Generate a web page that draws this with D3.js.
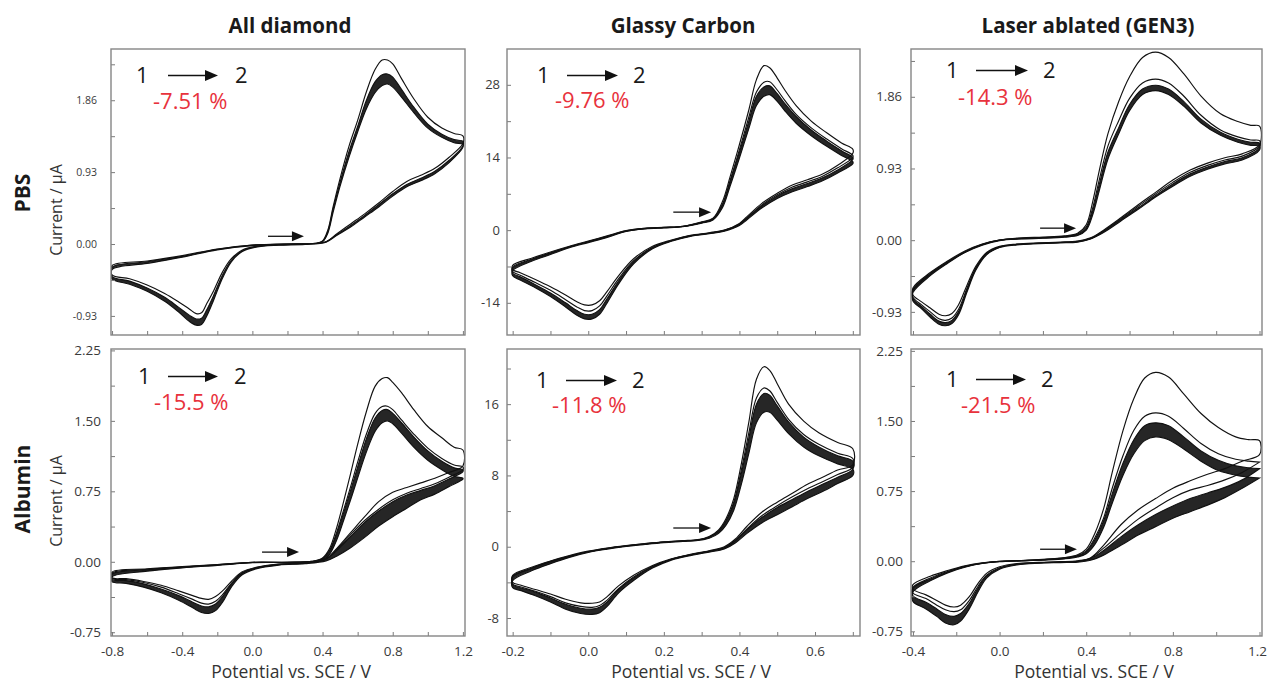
<!DOCTYPE html>
<html>
<head>
<meta charset="utf-8">
<script src="https://cdn.jsdelivr.net/npm/d3@7"></script>
<style>
  body { margin: 0; background: #fff; }
  svg { display: block; }
</style>
</head>
<body>
<script>
// ---- categories ----
const electrodes = ["All diamond", "Glassy Carbon", "Laser ablated (GEN3)"];
const media = ["PBS", "Albumin"];
const peakChange = ["-7.51 %", "-9.76 %", "-14.3 %", "-15.5 %", "-11.8 %", "-21.5 %"];

// ---- tick labels ----
const diamondXTicks = ["-0.8", "-0.4", "0.0", "0.4", "0.8", "1.2"];
const diamondXMinor = [-0.6, -0.2, 0.2, 0.6, 1.0];
const glassyXTicks = ["-0.2", "0.0", "0.2", "0.4", "0.6"];
const glassyXMinor = [-0.1, 0.1, 0.3, 0.5, 0.7];
const laserXTicks = ["-0.4", "0.0", "0.4", "0.8", "1.2"];
const laserXMinor = [-0.2, 0.2, 0.6, 1.0];
const pbsCurrentTicks = ["-0.93", "0.00", "0.93", "1.86"];
const pbsCurrentMinor = [-0.465, 0.465, 1.395, 2.325];
const glassyPbsCurrentTicks = ["-14", "0", "14", "28"];
const glassyPbsCurrentMinor = [-7, 7, 21];
const albCurrentTicks = ["-0.75", "0.00", "0.75", "1.50", "2.25"];
const albCurrentMinor = [-0.375, 0.375, 1.125, 1.875];
const glassyAlbCurrentTicks = ["-8", "0", "8", "16"];
const glassyAlbCurrentMinor = [-4, 4, 12, 20];

// ---- All diamond, PBS (potential in V, current in µA; forward scan then reverse scan) ----
const diamondPbsPotential = [-0.8, -0.6, -0.4, -0.2, 0.0, 0.2, 0.36, 0.40, 0.43, 0.46, 0.50, 0.55, 0.60, 0.65, 0.70, 0.74, 0.77, 0.80, 0.85, 0.92, 1.00, 1.08, 1.15, 1.2,
  1.2, 1.12, 1.04, 0.96, 0.88, 0.80, 0.72, 0.64, 0.56, 0.48, 0.42, 0.30, 0.15, 0.02, -0.06, -0.12, -0.17, -0.22, -0.26, -0.29, -0.32, -0.36, -0.42, -0.50, -0.60, -0.70, -0.8];
const diamondPbsCycle1 = [-0.28, -0.22, -0.15, -0.065, -0.013, 0.0, 0.01, 0.04, 0.18, 0.48, 0.85, 1.26, 1.60, 1.97, 2.26, 2.38, 2.38, 2.33, 2.14, 1.88, 1.64, 1.50, 1.43, 1.40,
  1.30, 1.12, 0.98, 0.89, 0.81, 0.68, 0.53, 0.39, 0.26, 0.13, 0.03, 0.0, -0.01, -0.03, -0.08, -0.19, -0.36, -0.60, -0.77, -0.89, -0.90, -0.84, -0.75, -0.64, -0.53, -0.45, -0.40];
const diamondPbsBandTop = [-0.30, -0.23, -0.16, -0.07, -0.015, 0.0, 0.01, 0.035, 0.16, 0.45, 0.80, 1.19, 1.52, 1.86, 2.10, 2.19, 2.20, 2.16, 2.00, 1.77, 1.55, 1.42, 1.35, 1.33,
  1.27, 1.08, 0.94, 0.85, 0.77, 0.65, 0.51, 0.37, 0.24, 0.12, 0.03, 0.0, -0.01, -0.035, -0.09, -0.21, -0.40, -0.66, -0.85, -0.96, -0.97, -0.92, -0.82, -0.69, -0.57, -0.48, -0.42];
const diamondPbsBandBottom = [-0.33, -0.25, -0.17, -0.075, -0.02, 0.0, 0.005, 0.03, 0.14, 0.41, 0.75, 1.12, 1.45, 1.75, 1.96, 2.05, 2.07, 2.03, 1.90, 1.70, 1.50, 1.38, 1.31, 1.29,
  1.25, 1.05, 0.91, 0.82, 0.74, 0.62, 0.48, 0.35, 0.22, 0.11, 0.025, -0.005, -0.015, -0.04, -0.10, -0.23, -0.44, -0.72, -0.93, -1.04, -1.05, -1.00, -0.88, -0.74, -0.61, -0.52, -0.45];

// ---- Glassy Carbon, PBS ----
const glassyPbsPotential = [-0.2, -0.15, -0.1, -0.05, 0.0, 0.05, 0.10, 0.15, 0.20, 0.25, 0.30, 0.33, 0.355, 0.375, 0.40, 0.425, 0.445, 0.465, 0.48, 0.50, 0.52, 0.55, 0.59, 0.63, 0.67, 0.70,
  0.70, 0.66, 0.62, 0.58, 0.54, 0.50, 0.46, 0.42, 0.40, 0.36, 0.32, 0.27, 0.22, 0.17, 0.12, 0.08, 0.05, 0.03, 0.01, -0.01, -0.03, -0.06, -0.10, -0.14, -0.18, -0.20];
const glassyPbsCycle1 = [-6.8, -5.4, -4.2, -3.1, -2.1, -1.1, -0.1, 0.35, 0.55, 0.75, 1.6, 2.3, 5.5, 10.2, 16.5, 23.2, 29.0, 31.7, 31.3, 29.3, 27.0, 24.0, 21.0, 18.8, 16.8, 15.6,
  14.8, 12.5, 10.8, 9.7, 8.7, 7.1, 5.2, 2.6, 1.3, 0.0, -0.5, -1.0, -1.9, -3.1, -5.5, -8.8, -11.8, -13.6, -14.4, -14.4, -13.8, -12.5, -10.9, -9.5, -8.2, -7.6];
const glassyPbsCycle2 = [-7.1, -5.6, -4.35, -3.2, -2.2, -1.2, -0.15, 0.33, 0.53, 0.72, 1.5, 2.2, 5.0, 9.5, 15.5, 21.8, 26.6, 28.5, 28.6, 27.0, 25.0, 22.3, 19.7, 17.6, 15.7, 14.4,
  14.0, 12.0, 10.4, 9.3, 8.3, 6.8, 4.9, 2.4, 1.2, -0.05, -0.55, -1.05, -2.0, -3.3, -5.9, -9.4, -12.6, -14.6, -15.5, -15.5, -14.8, -13.4, -11.6, -10.1, -8.7, -8.0];
const glassyPbsBandTop = [-7.3, -5.7, -4.45, -3.25, -2.25, -1.25, -0.2, 0.3, 0.5, 0.7, 1.45, 2.1, 4.8, 9.2, 15.0, 21.0, 25.8, 27.6, 27.8, 26.3, 24.4, 21.9, 19.3, 17.2, 15.3, 14.0,
  13.6, 11.6, 10.1, 9.0, 8.0, 6.6, 4.7, 2.3, 1.1, -0.1, -0.6, -1.1, -2.05, -3.4, -6.1, -9.8, -13.2, -15.3, -16.2, -16.2, -15.5, -14.0, -12.1, -10.5, -9.0, -8.3];
const glassyPbsBandBottom = [-7.8, -6.0, -4.7, -3.4, -2.4, -1.4, -0.25, 0.25, 0.45, 0.65, 1.35, 1.95, 4.3, 8.4, 13.9, 19.6, 24.0, 25.8, 26.1, 24.8, 23.0, 20.6, 18.2, 16.2, 14.4, 13.2,
  12.8, 11.0, 9.5, 8.4, 7.4, 6.1, 4.3, 2.0, 0.9, -0.2, -0.7, -1.2, -2.15, -3.6, -6.5, -10.4, -14.0, -16.2, -17.1, -17.1, -16.4, -14.8, -12.8, -11.1, -9.6, -8.8];

// ---- Laser ablated (GEN3), PBS ----
const laserPbsPotential = [-0.4, -0.32, -0.24, -0.16, -0.08, 0.0, 0.10, 0.20, 0.30, 0.36, 0.40, 0.43, 0.46, 0.50, 0.55, 0.60, 0.66, 0.72, 0.78, 0.85, 0.93, 1.02, 1.10, 1.16, 1.2,
  1.2, 1.12, 1.04, 0.96, 0.88, 0.80, 0.72, 0.64, 0.56, 0.48, 0.42, 0.36, 0.28, 0.18, 0.08, 0.0, -0.06, -0.11, -0.15, -0.19, -0.22, -0.25, -0.28, -0.32, -0.36, -0.4];
const laserPbsCycle1 = [-0.62, -0.42, -0.27, -0.14, -0.05, 0.0, 0.03, 0.04, 0.055, 0.09, 0.20, 0.50, 0.90, 1.38, 1.80, 2.12, 2.37, 2.44, 2.37, 2.16, 1.87, 1.64, 1.54, 1.49, 1.48,
  1.24, 1.12, 1.07, 1.00, 0.91, 0.78, 0.62, 0.46, 0.29, 0.13, 0.03, -0.01, -0.025, -0.035, -0.05, -0.08, -0.16, -0.34, -0.58, -0.84, -0.95, -0.98, -0.96, -0.88, -0.80, -0.71];
const laserPbsCycle2 = [-0.64, -0.43, -0.28, -0.15, -0.055, 0.0, 0.025, 0.035, 0.05, 0.08, 0.17, 0.42, 0.78, 1.22, 1.55, 1.84, 2.04, 2.09, 2.04, 1.87, 1.62, 1.43, 1.34, 1.30, 1.29,
  1.22, 1.09, 1.04, 0.97, 0.88, 0.75, 0.60, 0.44, 0.28, 0.12, 0.025, -0.015, -0.03, -0.04, -0.055, -0.085, -0.17, -0.36, -0.62, -0.90, -1.01, -1.04, -1.02, -0.93, -0.84, -0.74];
const laserPbsBandTop = [-0.65, -0.44, -0.29, -0.155, -0.06, 0.0, 0.02, 0.03, 0.045, 0.07, 0.15, 0.38, 0.72, 1.14, 1.46, 1.76, 1.96, 2.01, 1.96, 1.80, 1.57, 1.40, 1.31, 1.27, 1.26,
  1.20, 1.07, 1.02, 0.95, 0.86, 0.73, 0.58, 0.42, 0.27, 0.115, 0.02, -0.02, -0.03, -0.04, -0.055, -0.09, -0.18, -0.37, -0.64, -0.93, -1.04, -1.07, -1.05, -0.96, -0.86, -0.76];
const laserPbsBandBottom = [-0.68, -0.46, -0.30, -0.16, -0.065, -0.005, 0.015, 0.025, 0.04, 0.06, 0.13, 0.33, 0.64, 1.05, 1.38, 1.68, 1.89, 1.94, 1.89, 1.74, 1.52, 1.36, 1.27, 1.23, 1.22,
  1.17, 1.04, 0.99, 0.92, 0.83, 0.70, 0.56, 0.40, 0.25, 0.10, 0.015, -0.025, -0.035, -0.045, -0.06, -0.095, -0.19, -0.39, -0.67, -0.97, -1.08, -1.11, -1.09, -1.00, -0.89, -0.79];

// ---- All diamond, Albumin ----
const diamondAlbPotential = [-0.8, -0.6, -0.4, -0.2, 0.0, 0.2, 0.34, 0.40, 0.44, 0.48, 0.52, 0.56, 0.60, 0.65, 0.70, 0.74, 0.77, 0.80, 0.85, 0.92, 1.00, 1.08, 1.15, 1.2,
  1.2, 1.12, 1.04, 0.96, 0.88, 0.80, 0.72, 0.64, 0.56, 0.48, 0.42, 0.30, 0.15, 0.02, -0.06, -0.12, -0.17, -0.21, -0.25, -0.29, -0.34, -0.42, -0.52, -0.62, -0.72, -0.8];
const diamondAlbCycle1 = [-0.11, -0.075, -0.05, -0.03, -0.005, -0.005, 0.005, 0.04, 0.14, 0.36, 0.64, 0.94, 1.25, 1.60, 1.87, 1.95, 1.96, 1.91, 1.80, 1.62, 1.44, 1.32, 1.22, 1.19,
  1.02, 0.95, 0.89, 0.84, 0.79, 0.74, 0.64, 0.48, 0.31, 0.14, 0.035, -0.01, -0.025, -0.06, -0.11, -0.21, -0.31, -0.37, -0.40, -0.39, -0.36, -0.31, -0.25, -0.21, -0.18, -0.17];
const diamondAlbCycle2 = [-0.12, -0.08, -0.055, -0.032, -0.007, -0.006, 0.004, 0.035, 0.12, 0.31, 0.55, 0.80, 1.06, 1.36, 1.58, 1.652, 1.656, 1.62, 1.51, 1.36, 1.21, 1.10, 1.03, 1.01,
  0.98, 0.90, 0.83, 0.78, 0.73, 0.66, 0.56, 0.44, 0.29, 0.13, 0.03, -0.01, -0.028, -0.065, -0.12, -0.23, -0.35, -0.42, -0.45, -0.44, -0.40, -0.34, -0.27, -0.22, -0.19, -0.18];
const diamondAlbBandTop = [-0.13, -0.085, -0.057, -0.034, -0.008, -0.007, 0.003, 0.03, 0.11, 0.29, 0.52, 0.76, 1.01, 1.31, 1.53, 1.61, 1.62, 1.58, 1.48, 1.33, 1.18, 1.07, 1.00, 0.98,
  0.96, 0.88, 0.81, 0.76, 0.71, 0.64, 0.54, 0.42, 0.27, 0.12, 0.025, -0.012, -0.03, -0.068, -0.125, -0.24, -0.37, -0.45, -0.48, -0.47, -0.43, -0.36, -0.29, -0.235, -0.20, -0.19];
const diamondAlbBandBottom = [-0.16, -0.10, -0.065, -0.038, -0.01, -0.008, 0.0, 0.02, 0.08, 0.23, 0.44, 0.66, 0.89, 1.17, 1.39, 1.48, 1.50, 1.47, 1.37, 1.22, 1.08, 0.98, 0.91, 0.89,
  0.88, 0.80, 0.72, 0.66, 0.57, 0.48, 0.38, 0.26, 0.15, 0.06, 0.01, -0.02, -0.035, -0.075, -0.14, -0.27, -0.43, -0.52, -0.55, -0.54, -0.49, -0.41, -0.33, -0.27, -0.23, -0.21];

// ---- Glassy Carbon, Albumin ----
const glassyAlbPotential = [-0.2, -0.15, -0.1, -0.05, 0.0, 0.05, 0.10, 0.15, 0.20, 0.25, 0.29, 0.32, 0.345, 0.365, 0.385, 0.405, 0.425, 0.445, 0.465, 0.48, 0.50, 0.53, 0.57, 0.61, 0.66, 0.70,
  0.70, 0.66, 0.62, 0.58, 0.54, 0.50, 0.46, 0.42, 0.39, 0.36, 0.32, 0.27, 0.22, 0.17, 0.12, 0.08, 0.05, 0.03, 0.01, -0.02, -0.06, -0.10, -0.14, -0.18, -0.20];
const glassyAlbCycle1 = [-3.2, -2.3, -1.6, -1.0, -0.5, -0.15, 0.12, 0.35, 0.55, 0.68, 0.8, 1.15, 1.9, 3.2, 5.4, 9.3, 14.0, 18.8, 20.2, 19.8, 18.3, 16.0, 14.1, 12.8, 11.7, 11.0,
  9.2, 8.6, 7.8, 7.0, 6.0, 5.0, 3.9, 2.3, 0.9, 0.0, -0.45, -0.85, -1.35, -2.1, -3.2, -4.4, -5.6, -6.2, -6.35, -6.3, -5.9, -5.3, -4.8, -4.3, -4.0];
const glassyAlbCycle2 = [-3.3, -2.4, -1.65, -1.05, -0.55, -0.18, 0.1, 0.33, 0.53, 0.66, 0.78, 1.1, 1.8, 3.0, 5.0, 8.6, 12.8, 16.7, 17.82, 17.5, 16.2, 14.3, 12.6, 11.5, 10.5, 9.9,
  8.9, 8.1, 7.3, 6.5, 5.6, 4.6, 3.5, 2.0, 0.75, -0.1, -0.5, -0.9, -1.4, -2.2, -3.4, -4.7, -6.0, -6.6, -6.8, -6.7, -6.3, -5.6, -5.0, -4.5, -4.2];
const glassyAlbBandTop = [-3.4, -2.45, -1.7, -1.08, -0.57, -0.2, 0.08, 0.31, 0.51, 0.64, 0.76, 1.06, 1.7, 2.85, 4.8, 8.2, 12.2, 16.0, 17.2, 17.0, 15.8, 14.0, 12.3, 11.2, 10.2, 9.6,
  8.7, 7.8, 7.0, 6.2, 5.3, 4.4, 3.3, 1.9, 0.7, -0.12, -0.52, -0.92, -1.42, -2.25, -3.5, -4.8, -6.2, -6.8, -7.0, -6.9, -6.45, -5.75, -5.1, -4.6, -4.3];
const glassyAlbBandBottom = [-3.8, -2.7, -1.9, -1.2, -0.65, -0.28, 0.02, 0.25, 0.45, 0.58, 0.70, 0.95, 1.5, 2.45, 4.1, 7.0, 10.5, 13.9, 15.1, 15.1, 14.2, 12.7, 11.2, 10.2, 9.3, 8.7,
  8.0, 7.1, 6.2, 5.4, 4.5, 3.6, 2.7, 1.5, 0.45, -0.25, -0.6, -1.0, -1.5, -2.4, -3.8, -5.2, -6.7, -7.4, -7.6, -7.5, -7.0, -6.2, -5.5, -4.9, -4.6];

// ---- Laser ablated (GEN3), Albumin ----
const laserAlbPotential = [-0.4, -0.32, -0.24, -0.16, -0.08, 0.0, 0.10, 0.20, 0.30, 0.36, 0.40, 0.44, 0.48, 0.52, 0.57, 0.62, 0.67, 0.72, 0.78, 0.85, 0.93, 1.01, 1.09, 1.15, 1.2,
  1.2, 1.12, 1.04, 0.96, 0.88, 0.80, 0.72, 0.64, 0.56, 0.48, 0.42, 0.36, 0.28, 0.18, 0.08, 0.0, -0.06, -0.10, -0.14, -0.18, -0.21, -0.25, -0.29, -0.34, -0.4];
const laserAlbCycle1 = [-0.25, -0.16, -0.10, -0.05, -0.017, 0.0, 0.008, 0.02, 0.04, 0.07, 0.13, 0.30, 0.56, 0.95, 1.40, 1.74, 1.96, 2.02, 1.97, 1.79, 1.58, 1.43, 1.33, 1.30, 1.29,
  1.14, 1.07, 0.99, 0.93, 0.86, 0.78, 0.67, 0.55, 0.39, 0.17, 0.035, 0.005, -0.005, -0.012, -0.025, -0.06, -0.13, -0.24, -0.38, -0.47, -0.49, -0.47, -0.42, -0.36, -0.30];
const laserAlbCycle2 = [-0.28, -0.18, -0.11, -0.055, -0.02, -0.002, 0.006, 0.017, 0.035, 0.06, 0.11, 0.25, 0.46, 0.78, 1.13, 1.40, 1.55, 1.586, 1.55, 1.42, 1.26, 1.15, 1.09, 1.07, 1.06,
  1.06, 0.95, 0.87, 0.81, 0.76, 0.68, 0.57, 0.45, 0.30, 0.14, 0.035, 0.0, -0.008, -0.015, -0.03, -0.07, -0.15, -0.27, -0.42, -0.52, -0.54, -0.52, -0.47, -0.40, -0.34];
const laserAlbBandTop = [-0.29, -0.19, -0.115, -0.058, -0.022, -0.003, 0.005, 0.015, 0.032, 0.055, 0.10, 0.23, 0.43, 0.72, 1.05, 1.30, 1.45, 1.48, 1.45, 1.33, 1.18, 1.08, 1.02, 1.00, 0.99,
  0.99, 0.87, 0.79, 0.73, 0.67, 0.59, 0.50, 0.39, 0.26, 0.115, 0.028, -0.002, -0.01, -0.017, -0.033, -0.075, -0.16, -0.29, -0.45, -0.56, -0.59, -0.57, -0.51, -0.44, -0.37];
const laserAlbBandBottom = [-0.33, -0.21, -0.125, -0.065, -0.025, -0.005, 0.003, 0.012, 0.025, 0.045, 0.08, 0.18, 0.36, 0.62, 0.92, 1.15, 1.29, 1.33, 1.30, 1.20, 1.07, 0.97, 0.92, 0.90, 0.89,
  0.89, 0.78, 0.68, 0.60, 0.53, 0.46, 0.37, 0.28, 0.17, 0.065, 0.01, -0.01, -0.015, -0.022, -0.04, -0.085, -0.18, -0.33, -0.51, -0.64, -0.68, -0.66, -0.59, -0.51, -0.43];

// scan-start arrows: [from potential, to potential, current]
const scanStart = [[0.089, 0.294, 0.10], [0.225, 0.325, 3.47], [0.187, 0.353, 0.156],
                   [0.055, 0.266, 0.103], [0.225, 0.325, 2.1], [0.187, 0.357, 0.128]];

// ---- layout ----
const W = 1268, H = 684;
const cols = [[111, 465], [507, 860], [911, 1262]];
const rows = [[49, 335], [349, 636]];
const xDomains = [[-0.806, 1.212], [-0.215, 0.719], [-0.409, 1.2115]];
const FONT = "'Open Sans', 'Noto Sans', sans-serif";

const panels = [
  { col: 0, row: 0, yDomain: [-1.177, 2.523], xTicks: diamondXTicks, xMinor: diamondXMinor,
    yTicks: pbsCurrentTicks, yMinor: pbsCurrentMinor, potential: diamondPbsPotential,
    cycle1: diamondPbsCycle1, cycle2: null, bandTop: diamondPbsBandTop, bandBottom: diamondPbsBandBottom,
    tickFont: 10.5, tickPad: 14, note: { one: 25, a0: 57, a1: 107, two: 124, base: 34, red: 42, redBase: 60 } },
  { col: 1, row: 0, yDomain: [-20.2, 34.9], xTicks: glassyXTicks, xMinor: glassyXMinor,
    yTicks: glassyPbsCurrentTicks, yMinor: glassyPbsCurrentMinor, potential: glassyPbsPotential,
    cycle1: glassyPbsCycle1, cycle2: glassyPbsCycle2, bandTop: glassyPbsBandTop, bandBottom: glassyPbsBandBottom,
    tickFont: 13, tickPad: 7, note: { one: 30, a0: 60, a1: 111, two: 126, base: 34, red: 48, redBase: 59 } },
  { col: 2, row: 0, yDomain: [-1.23, 2.48], xTicks: laserXTicks, xMinor: laserXMinor,
    yTicks: pbsCurrentTicks, yMinor: pbsCurrentMinor, potential: laserPbsPotential,
    cycle1: laserPbsCycle1, cycle2: laserPbsCycle2, bandTop: laserPbsBandTop, bandBottom: laserPbsBandBottom,
    tickFont: 13, tickPad: 9, note: { one: 35, a0: 65, a1: 117, two: 132, base: 29, red: 47, redBase: 56 } },
  { col: 0, row: 1, yDomain: [-0.79, 2.265], xTicks: diamondXTicks, xMinor: diamondXMinor,
    yTicks: albCurrentTicks, yMinor: albCurrentMinor, potential: diamondAlbPotential,
    cycle1: diamondAlbCycle1, cycle2: diamondAlbCycle2, bandTop: diamondAlbBandTop, bandBottom: diamondAlbBandBottom,
    tickFont: 13.5, tickPad: 10, note: { one: 27, a0: 57, a1: 107, two: 123, base: 35, red: 43, redBase: 61 } },
  { col: 1, row: 1, yDomain: [-10.02, 22.19], xTicks: glassyXTicks, xMinor: glassyXMinor,
    yTicks: glassyAlbCurrentTicks, yMinor: glassyAlbCurrentMinor, potential: glassyAlbPotential,
    cycle1: glassyAlbCycle1, cycle2: glassyAlbCycle2, bandTop: glassyAlbBandTop, bandBottom: glassyAlbBandBottom,
    tickFont: 13, tickPad: 8, note: { one: 29, a0: 59, a1: 110, two: 125, base: 39, red: 45, redBase: 64 } },
  { col: 2, row: 1, yDomain: [-0.80, 2.27], xTicks: laserXTicks, xMinor: laserXMinor,
    yTicks: albCurrentTicks, yMinor: albCurrentMinor, potential: laserAlbPotential,
    cycle1: laserAlbCycle1, cycle2: laserAlbCycle2, bandTop: laserAlbBandTop, bandBottom: laserAlbBandBottom,
    tickFont: 13.5, tickPad: 8, note: { one: 35, a0: 65, a1: 115, two: 130, base: 38, red: 50, redBase: 64 } }
];

const svg = d3.select("body").append("svg").attr("width", W).attr("height", H);
svg.append("rect").attr("width", W).attr("height", H).attr("fill", "#fff");

panels.forEach((p, i) => {
  const [x0, x1] = cols[p.col];
  const [y0, y1] = rows[p.row];
  const x = d3.scaleLinear().domain(xDomains[p.col]).range([x0, x1]);
  const y = d3.scaleLinear().domain(p.yDomain).range([y1, y0]);
  const g = svg.append("g");

  const clipId = "clip" + i;
  svg.append("clipPath").attr("id", clipId)
    .append("rect").attr("x", x0).attr("y", y0).attr("width", x1 - x0).attr("height", y1 - y0);

  const loop = cur => p.potential.map((e, k) => [e, cur[k]]);
  const line = d3.line().x(d => x(d[0])).y(d => y(d[1]))
    .curve(d3.curveCatmullRomClosed.alpha(0.5));

  const plot = g.append("g").attr("clip-path", `url(#${clipId})`);
  // dense band of the later, nearly overlapping cycles
  plot.append("path")
    .attr("d", line(loop(p.bandTop)) + line(loop(p.bandBottom)))
    .attr("fill", "#262626").attr("fill-rule", "evenodd").attr("stroke", "none");
  [p.bandTop, p.bandBottom, p.cycle2, p.cycle1].forEach(c => {
    if (!c) return;
    plot.append("path").attr("d", line(loop(c)))
      .attr("fill", "none").attr("stroke", "#111").attr("stroke-width", 1.15);
  });

  // axes with inward ticks
  const xLab = new Map(p.xTicks.map(s => [+s, s]));
  const showX = p.row === 1;
  const xAxis = d3.axisBottom(x)
    .tickValues(p.xTicks.map(Number).concat(p.xMinor))
    .tickSize(-4).tickPadding(10)
    .tickFormat(v => (showX && xLab.has(v)) ? xLab.get(v) : "");
  g.append("g").attr("transform", `translate(0,${y1})`).call(xAxis)
    .call(a => a.select(".domain").remove())
    .call(a => a.selectAll("line").attr("stroke", "#7a7a7a"))
    .call(a => a.selectAll("text").attr("fill", "#3a3a3a").style("font-family", FONT).style("font-size", "13.5px"));

  const yLab = new Map(p.yTicks.map(s => [+s, s]));
  const yAxis = d3.axisLeft(y)
    .tickValues(p.yTicks.map(Number).concat(p.yMinor))
    .tickSize(-4).tickPadding(p.tickPad)
    .tickFormat(v => yLab.has(v) ? yLab.get(v) : "");
  g.append("g").attr("transform", `translate(${x0},0)`).call(yAxis)
    .call(a => a.select(".domain").remove())
    .call(a => a.selectAll("line").attr("stroke", "#7a7a7a"))
    .call(a => a.selectAll("text").attr("fill", "#3a3a3a").style("font-family", FONT).style("font-size", p.tickFont + "px"));

  // frame
  g.append("rect").attr("x", x0).attr("y", y0).attr("width", x1 - x0).attr("height", y1 - y0)
    .attr("fill", "none").attr("stroke", "#858585").attr("stroke-width", 1.4);

  // scan-start arrow
  const [sa, sb, si] = scanStart[i];
  const ax0 = x(sa), ax1 = x(sb), ay = y(si);
  g.append("line").attr("x1", ax0).attr("x2", ax1 - 10).attr("y1", ay).attr("y2", ay)
    .attr("stroke", "#111").attr("stroke-width", 1.3);
  g.append("path").attr("d", `M${ax1},${ay} L${ax1 - 12},${ay - 5} L${ax1 - 12},${ay + 5} Z`).attr("fill", "#111");

  // "1 -> 2" cycle annotation and peak change
  const n = p.note;
  const base = y0 + n.base;
  const midY = base - 7.5;
  g.append("text").attr("x", x0 + n.one).attr("y", base).text("1")
    .style("font-family", FONT).style("font-size", "22px").attr("fill", "#1a1a1a");
  g.append("line").attr("x1", x0 + n.a0).attr("x2", x0 + n.a1 - 10).attr("y1", midY).attr("y2", midY)
    .attr("stroke", "#111").attr("stroke-width", 1.3);
  g.append("path").attr("d", `M${x0 + n.a1},${midY} L${x0 + n.a1 - 13},${midY - 5.5} L${x0 + n.a1 - 13},${midY + 5.5} Z`)
    .attr("fill", "#111");
  g.append("text").attr("x", x0 + n.two).attr("y", base).text("2")
    .style("font-family", FONT).style("font-size", "22px").attr("fill", "#1a1a1a");
  g.append("text").attr("x", x0 + n.red).attr("y", y0 + n.redBase).text(peakChange[i])
    .style("font-family", FONT).style("font-size", "22px").attr("fill", "#e8323c");
});

// keep tick labels at the right edge inside the page
svg.selectAll(".tick text").each(function () {
  const b = this.getBoundingClientRect();
  if (b.right > W - 1) d3.select(this).attr("dx", -(b.right - (W - 1)));
});

// column titles
const titleX = [290, 683, 1088];
electrodes.forEach((t, c) => {
  svg.append("text").attr("x", titleX[c]).attr("y", 33).attr("text-anchor", "middle").text(t)
    .style("font-family", FONT).style("font-size", "20.5px").style("font-weight", "700").attr("fill", "#1a1a1a");
});

// row labels and current axis titles
const rowLabelY = [193, 489];
const currentY = [210, 501];
media.forEach((m, r) => {
  svg.append("text").attr("transform", `translate(30,${rowLabelY[r]}) rotate(-90)`)
    .attr("text-anchor", "middle").text(m)
    .style("font-family", FONT).style("font-size", "21px").style("font-weight", "700").attr("fill", "#1a1a1a");
  svg.append("text").attr("transform", `translate(62,${currentY[r]}) rotate(-90)`)
    .attr("text-anchor", "middle").text("Current / µA")
    .style("font-family", FONT).style("font-size", "16px").attr("fill", "#333");
});

// potential axis titles
const potentialX = [291, 691, 1094];
potentialX.forEach(px => {
  svg.append("text").attr("x", px).attr("y", 678).attr("text-anchor", "middle").text("Potential vs. SCE / V")
    .style("font-family", FONT).style("font-size", "17.5px").attr("fill", "#333");
});
</script>
</body>
</html>
